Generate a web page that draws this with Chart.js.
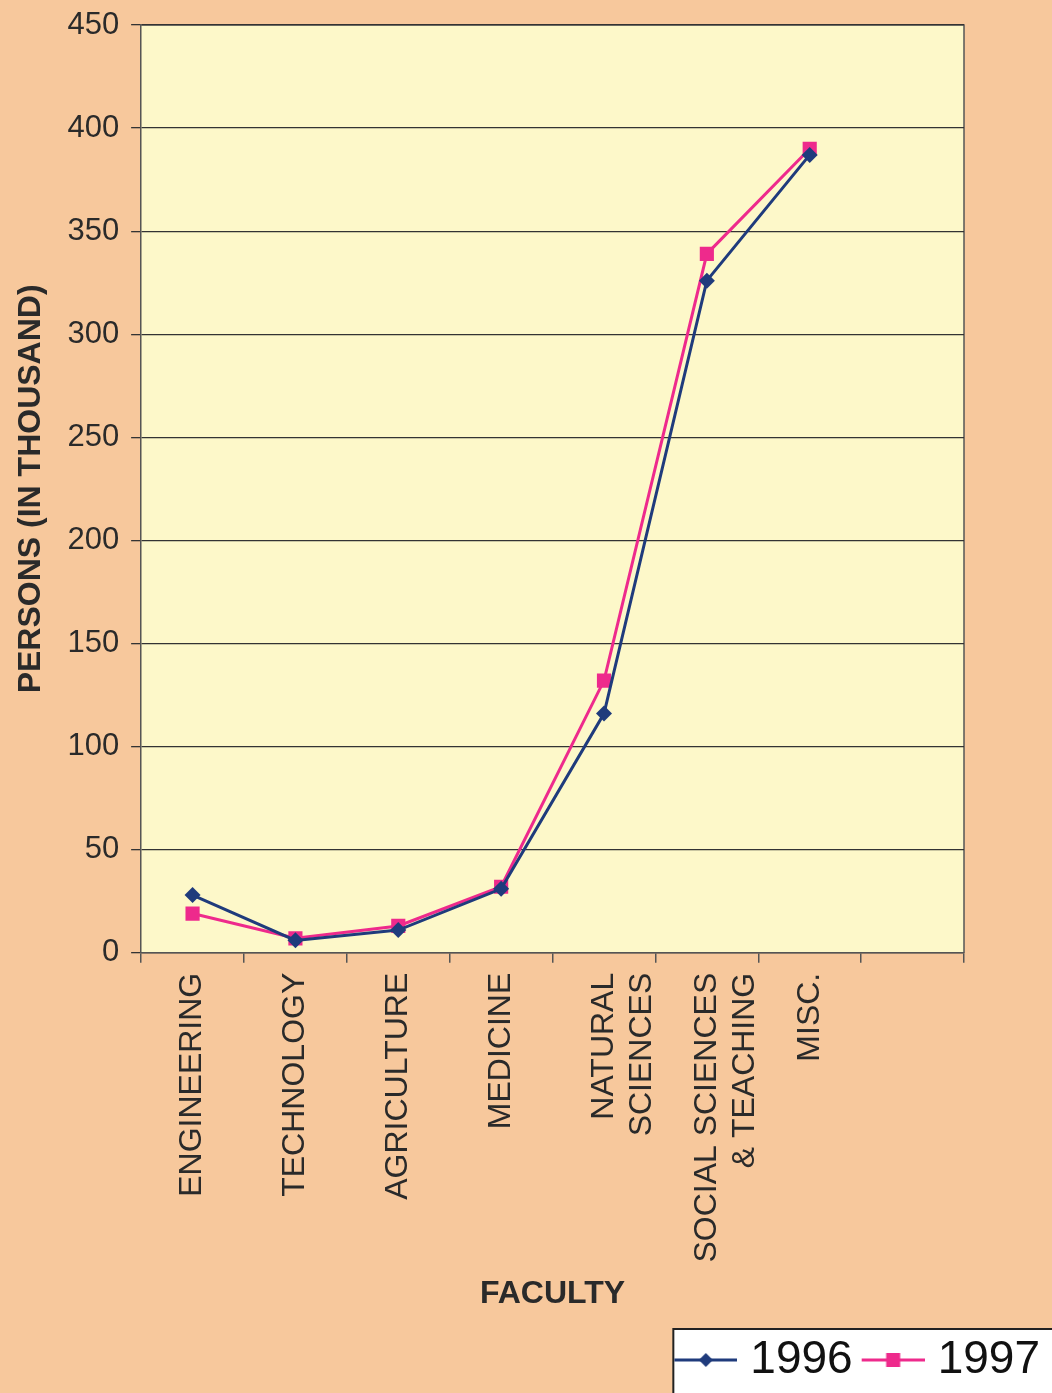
<!DOCTYPE html>
<html>
<head>
<meta charset="utf-8">
<script src="https://cdn.jsdelivr.net/npm/chart.js@4"></script>
<style>
  html, body { margin: 0; padding: 0; background: #f7c89c; }
  #wrap { width: 1052px; height: 1393px; position: relative; }
</style>
</head>
<body>
<div id="wrap"><canvas id="facultyChart"></canvas></div>
<script>
// categories (last slot is empty in the original axis)
const faculties = [
    'ENGINEERING',
    'TECHNOLOGY',
    'AGRICULTURE',
    'MEDICINE',
    ['NATURAL', 'SCIENCES'],
    ['SOCIAL SCIENCES', '& TEACHING'],
    'MISC.',
    ''
];
const persons1996 = [28, 6, 11, 31, 116, 326, 387, null];
const persons1997 = [19, 7, 13, 32, 132, 339, 390, null];
const yTicks = [0, 50, 100, 150, 200, 250, 300, 350, 400, 450];

const navy = '#1f3b7c';
const pink = '#ee2a8c';
const font = 'Liberation Sans, Arial, sans-serif';

// small legend sample: line with a marker, sitting in the right part of the canvas
function legendSample(color, shape) {
    const c = document.createElement('canvas');
    c.width = 74; c.height = 20;
    const g = c.getContext('2d');
    const x0 = 11, x1 = 74, mid = (x0 + x1) / 2;
    g.strokeStyle = color;
    g.lineWidth = 3;
    g.beginPath(); g.moveTo(x0, 10); g.lineTo(x1, 10); g.stroke();
    g.fillStyle = color;
    if (shape === 'diamond') {
        g.beginPath();
        g.moveTo(mid, 3); g.lineTo(mid + 7, 10); g.lineTo(mid, 17); g.lineTo(mid - 7, 10);
        g.closePath(); g.fill();
    } else {
        g.fillRect(mid - 7, 3, 14, 14);
    }
    return c;
}

// plot area fill, legend pushed to the right edge inside a white box
const backdrop = {
    id: 'backdrop',
    afterLayout(chart) {
        chart.legend.right = chart.width - 4;
    },
    beforeDraw(chart) {
        const ctx = chart.ctx;
        const a = chart.chartArea;
        ctx.save();
        ctx.fillStyle = '#fdf8c9';
        ctx.fillRect(a.left, a.top, a.right - a.left, a.bottom - a.top);
        ctx.strokeStyle = '#555';
        ctx.lineWidth = 1.5;
        ctx.beginPath();
        ctx.moveTo(a.left, a.top); ctx.lineTo(a.right, a.top); ctx.lineTo(a.right, a.bottom);
        ctx.stroke();
        const lg = chart.legend;
        const boxLeft = lg.right - lg.lineWidths[0];
        ctx.fillStyle = '#ffffff';
        ctx.fillRect(boxLeft, lg.top, chart.width - boxLeft, chart.height - lg.top);
        ctx.strokeStyle = '#222';
        ctx.lineWidth = 2;
        ctx.strokeRect(boxLeft, lg.top, chart.width - boxLeft + 10, chart.height - lg.top + 10);
        ctx.restore();
    }
};

const ctx = document.getElementById('facultyChart').getContext('2d');
new Chart(ctx, {
    type: 'line',
    data: {
        labels: faculties,
        datasets: [
            {
                label: '1996',
                data: persons1996,
                borderColor: navy,
                backgroundColor: navy,
                borderWidth: 3,
                pointStyle: 'rectRot',
                pointRadius: 8,
                pointBorderWidth: 0,
                fill: false
            },
            {
                label: '1997',
                data: persons1997,
                borderColor: pink,
                backgroundColor: pink,
                borderWidth: 3,
                pointStyle: 'rect',
                pointRadius: 10,
                pointBorderWidth: 0,
                fill: false
            }
        ]
    },
    options: {
        responsive: true,
        maintainAspectRatio: false,
        animation: false,
        layout: { padding: { top: 0, right: 88, left: 12, bottom: 0 } },
        plugins: {
            tooltip: { enabled: false },
            legend: {
                position: 'bottom',
                align: 'end',
                labels: {
                    color: '#111',
                    font: { family: font, size: 46 },
                    usePointStyle: true,
                    pointStyleWidth: 54,
                    padding: 8,
                    generateLabels(chart) {
                        return chart.data.datasets.map((ds, i) => ({
                            text: ds.label,
                            datasetIndex: i,
                            fillStyle: ds.borderColor,
                            strokeStyle: ds.borderColor,
                            lineWidth: 0,
                            fontColor: '#111',
                            pointStyle: legendSample(ds.borderColor, i === 0 ? 'diamond' : 'rect'),
                            hidden: false
                        }));
                    }
                }
            }
        },
        scales: {
            x: {
                offset: true,
                grid: {
                    offset: true,
                    drawOnChartArea: false,
                    drawTicks: true,
                    tickLength: 10,
                    color: '#555',
                    lineWidth: 1.5
                },
                border: { color: '#555', width: 1.5 },
                ticks: {
                    autoSkip: false,
                    minRotation: 90,
                    maxRotation: 90,
                    padding: 10,
                    color: '#2a2a2a',
                    font: { family: font, size: 32 }
                },
                title: {
                    display: true,
                    text: 'FACULTY',
                    color: '#2a2a2a',
                    padding: { top: 2, bottom: 16 },
                    font: { family: font, size: 32, weight: 'bold' }
                }
            },
            y: {
                min: 0,
                max: 450,
                afterBuildTicks(scale) {
                    scale.ticks = yTicks.map(v => ({ value: v }));
                },
                afterFit(scale) {
                    scale.paddingTop = 25;
                },
                grid: {
                    color: '#333',
                    lineWidth: 1.3,
                    tickLength: 10
                },
                border: { color: '#555', width: 1.5 },
                ticks: {
                    color: '#2a2a2a',
                    padding: 12,
                    font: { family: font, size: 31 }
                },
                title: {
                    display: true,
                    text: 'PERSONS (IN THOUSAND)',
                    color: '#2a2a2a',
                    padding: { top: 0, bottom: 5 },
                    font: { family: font, size: 32, weight: 'bold' }
                }
            }
        }
    },
    plugins: [backdrop]
});
</script>
</body>
</html>
